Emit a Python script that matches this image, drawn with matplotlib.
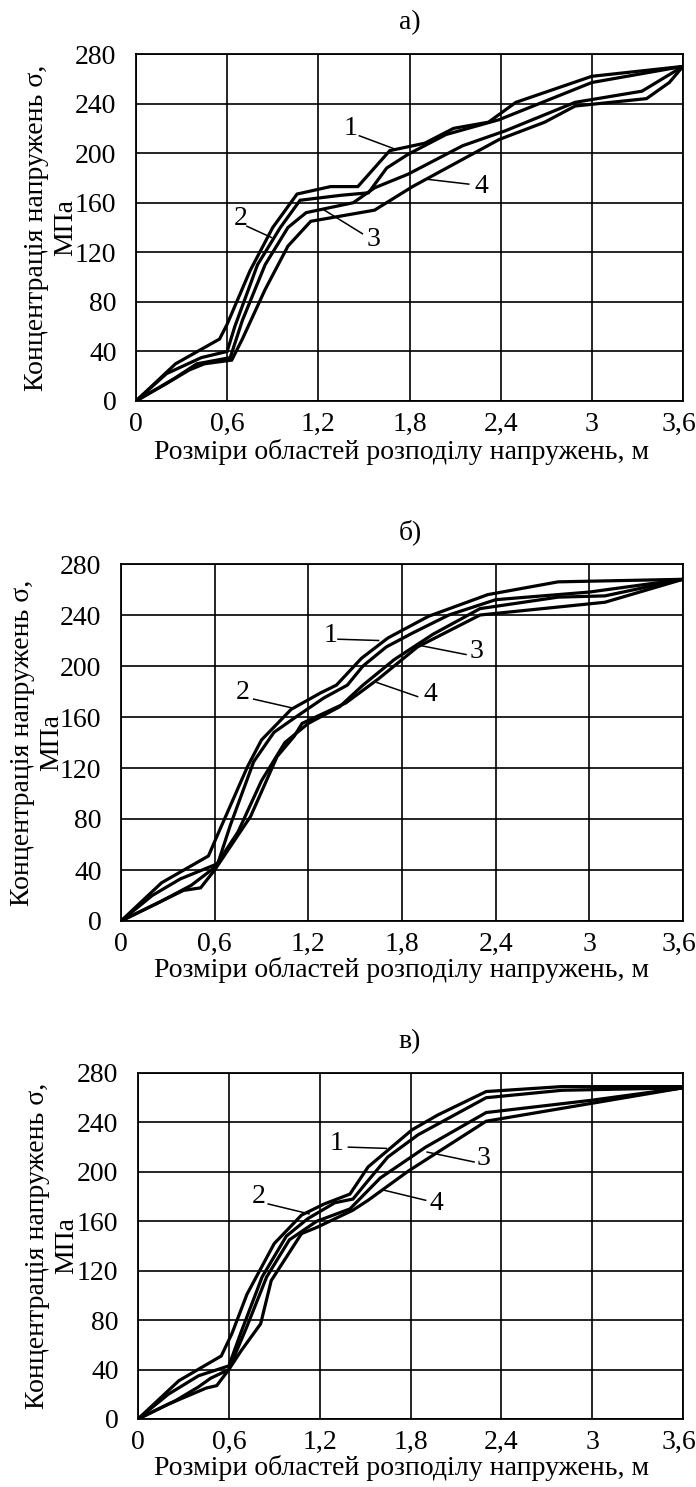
import matplotlib.pyplot as plt
import matplotlib.transforms as mtransforms

plt.rcParams['font.family'] = ['Liberation Serif', 'DejaVu Serif']
plt.rcParams['font.size'] = 20

x_ticks = [0, 0.6, 1.2, 1.8, 2.4, 3.0, 3.6]
x_tick_labels = ['0', '0,6', '1,2', '1,8', '2,4', '3', '3,6']
y_ticks = [0, 40, 80, 120, 160, 200, 240, 280]

titles = ['а)', 'б)', 'в)']
x_title = 'Розміри областей розподілу напружень, м'
y_title = 'Концентрація напружень σ,\nМПа'

# panel а
a_x1 = [0, 0.26, 0.55, 0.6, 0.75, 0.9, 1.06, 1.28, 1.46, 1.67, 1.9, 2.09, 2.32, 2.5, 3.0, 3.6]
a_y1 = [0, 30, 50, 62, 105, 140, 167, 173, 173, 202, 208, 220, 225, 241, 262, 270]
a_x2 = [0, 0.2, 0.43, 0.6, 0.65, 0.8, 0.95, 1.08, 1.35, 1.53, 1.65, 1.79, 2.04, 2.39, 3.0, 3.6]
a_y2 = [0, 22, 35, 40, 60, 110, 140, 162, 166, 168, 188, 199, 215, 227, 257, 270]
a_x3 = [0, 0.25, 0.4, 0.62, 0.7, 0.85, 1.0, 1.12, 1.43, 1.57, 1.79, 2.15, 2.43, 2.89, 3.33, 3.6]
a_y3 = [0, 18, 30, 35, 65, 110, 140, 152, 160, 172, 183, 206, 218, 241, 250, 270]
a_x4 = [0, 0.2, 0.35, 0.45, 0.63, 0.7, 0.85, 1.0, 1.15, 1.57, 1.82, 2.39, 2.69, 2.89, 3.36, 3.51, 3.6]
a_y4 = [0, 14, 25, 30, 33, 50, 90, 125, 145, 154, 173, 211, 225, 238, 244, 257, 270]

# panel б
b_x1 = [0, 0.26, 0.56, 0.62, 0.81, 0.9, 1.09, 1.28, 1.38, 1.54, 1.71, 1.97, 2.35, 2.8, 3.6]
b_y1 = [0, 30, 51, 68, 121, 142, 166, 179, 185, 206, 222, 239, 256, 266, 268]
b_x2 = [0, 0.2, 0.38, 0.62, 0.7, 0.85, 0.98, 1.12, 1.3, 1.45, 1.55, 1.7, 1.87, 2.1, 2.4, 3.0, 3.6]
b_y2 = [0, 20, 33, 45, 75, 125, 148, 160, 175, 185, 200, 215, 226, 240, 252, 258, 268]
b_x3 = [0, 0.25, 0.45, 0.6, 0.75, 0.9, 1.05, 1.2, 1.4, 1.55, 1.75, 2.0, 2.3, 2.8, 3.1, 3.6]
b_y3 = [0, 15, 28, 42, 70, 110, 140, 155, 168, 185, 205, 225, 245, 254, 255, 268]
b_x4 = [0, 0.2, 0.4, 0.51, 0.6, 0.83, 1.0, 1.11, 1.16, 1.44, 1.65, 1.9, 2.3, 3.1, 3.6]
b_y4 = [0, 12, 24, 26, 40, 82, 129, 145, 155, 171, 190, 215, 240, 250, 268]

# panel в
c_x1 = [0, 0.27, 0.55, 0.62, 0.72, 0.9, 1.08, 1.23, 1.4, 1.52, 1.81, 1.98, 2.3, 2.8, 3.6]
c_y1 = [0, 31, 51, 69, 101, 142, 165, 174, 182, 204, 234, 246, 265, 269, 269]
c_x2 = [0, 0.2, 0.4, 0.6, 0.68, 0.82, 0.98, 1.12, 1.3, 1.42, 1.5, 1.65, 1.85, 2.0, 2.3, 2.8, 3.6]
c_y2 = [0, 20, 35, 43, 70, 115, 148, 162, 175, 178, 190, 212, 230, 240, 260, 266, 268]
c_x3 = [0, 0.25, 0.4, 0.48, 0.6, 0.72, 0.85, 1.0, 1.18, 1.4, 1.6, 1.9, 2.3, 3.0, 3.6]
c_y3 = [0, 15, 26, 33, 40, 75, 115, 145, 160, 170, 195, 220, 248, 258, 268]
c_x4 = [0, 0.2, 0.45, 0.52, 0.6, 0.68, 0.81, 0.88, 1.08, 1.18, 1.42, 1.52, 1.79, 2.3, 3.6]
c_y4 = [0, 12, 25, 27, 40, 55, 77, 112, 150, 155, 169, 177, 201, 241, 268]

W, H = 696, 1487
fig = plt.figure(figsize=(W / 100, H / 100), dpi=100)


def px_axes(x0, y0, x1, y1):
    return fig.add_axes([x0 / W, 1 - y1 / H, (x1 - x0) / W, (y1 - y0) / H])


def draw_panel(ax, curves, notes):
    for xs, ys in curves:
        ax.plot(xs, ys, color='black', lw=2.3, solid_joinstyle='miter', zorder=3)
    for num, txt_xy, line_start, line_end in notes:
        ax.text(txt_xy[0], txt_xy[1], num, ha='center', va='center', fontsize=20, zorder=4)
        ax.plot([line_start[0], line_end[0]], [line_start[1], line_end[1]],
                color='black', lw=1.1, zorder=4)
    ax.set_xlim(0, 3.6)
    ax.set_ylim(0, 280)
    ax.set_xticks(x_ticks)
    ax.set_xticklabels(x_tick_labels)
    ax.set_yticks(y_ticks)
    ax.grid(True, color='black', lw=1.2)
    ax.tick_params(length=0, labelsize=20)
    ax.tick_params(axis='x', pad=8)
    ax.tick_params(axis='y', pad=14)
    # pull the last x label a little inside the figure
    last = ax.get_xticklabels()[-1]
    last.set_transform(last.get_transform() +
                       mtransforms.ScaledTranslation(-4 / 100, 0, fig.dpi_scale_trans))
    for sp in ax.spines.values():
        sp.set_linewidth(1.3)


ax_a = px_axes(136, 54, 683, 401)
draw_panel(ax_a,
           [(a_x1, a_y1), (a_x2, a_y2), (a_x3, a_y3), (a_x4, a_y4)],
           [('1', (1.41, 220), (1.47, 214), (1.71, 203)),
            ('2', (0.69, 147), (0.73, 141), (0.89, 132)),
            ('3', (1.56, 130), (1.49, 135), (1.24, 154)),
            ('4', (2.27, 173), (2.19, 175), (1.91, 179))])

ax_b = px_axes(121, 564, 683, 921)
draw_panel(ax_b,
           [(b_x1, b_y1), (b_x2, b_y2), (b_x3, b_y3), (b_x4, b_y4)],
           [('1', (1.34, 224), (1.39, 221), (1.65, 220)),
            ('2', (0.78, 179), (0.85, 174), (1.10, 167)),
            ('3', (2.28, 211), (2.21, 209), (1.92, 216)),
            ('4', (1.98, 178), (1.90, 176), (1.64, 187))])

ax_c = px_axes(138, 1073, 683, 1419)
draw_panel(ax_c,
           [(c_x1, c_y1), (c_x2, c_y2), (c_x3, c_y3), (c_x4, c_y4)],
           [('1', (1.31, 223), (1.39, 220), (1.64, 219)),
            ('2', (0.80, 180), (0.86, 174), (1.13, 166)),
            ('3', (2.28, 211), (2.22, 208), (1.91, 216)),
            ('4', (1.97, 174), (1.90, 177), (1.63, 185))])

# titles, axis captions
for ax, title, title_y, xl_y, yl_x in [(ax_a, titles[0], 23, 452, 51),
                                       (ax_b, titles[1], 532, 970, 37),
                                       (ax_c, titles[2], 1042, 1468, 52)]:
    bb = ax.get_position()
    yc = (bb.y0 + bb.y1) / 2
    fig.text(410 / W, 1 - title_y / H, title, ha='center', va='center', fontsize=20)
    fig.text(402 / W, 1 - xl_y / H, x_title, ha='center', va='center', fontsize=20)
    fig.text(yl_x / W, yc, y_title, ha='center', va='center', rotation=90,
             multialignment='center', fontsize=20, linespacing=1.2)

fig.savefig('out.png', dpi=100)
